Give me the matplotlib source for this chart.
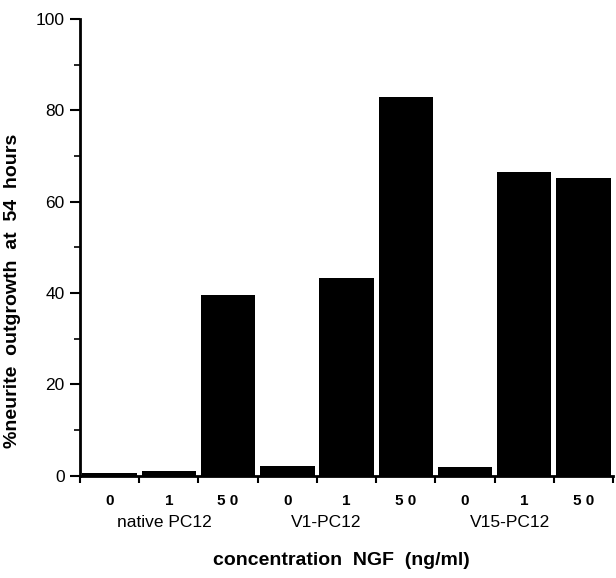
import matplotlib
matplotlib.use('Agg')
import matplotlib.pyplot as plt
import matplotlib.transforms as mtransforms
import numpy as np

plt.rcParams['font.family'] = ['Liberation Sans', 'DejaVu Sans']

# данные: % отростков через 54 часа
conc_labels = ['0', '1', '5 0', '0', '1', '5 0', '0', '1', '5 0']
outgrowth = [0.5, 1.1, 39.5, 2.1, 43.2, 83.0, 1.8, 66.6, 65.3]
groups = ['native PC12', 'V1-PC12', 'V15-PC12']
group_pos = [1.42, 4.16, 7.26]  # где стоят подписи групп (по оси x)
yticks = [0, 20, 40, 60, 80, 100]

fig = plt.figure(figsize=(6.16, 5.78), dpi=100)
ax = fig.add_axes([0.1299, 0.177, 0.8653, 0.79])

x = np.arange(len(outgrowth)) + 0.5
ax.bar(x, outgrowth, width=0.92, color='black', edgecolor='black', linewidth=0)

ax.set_xlim(0, 9)
ax.set_ylim(0, 100)

for s in ['top', 'right']:
    ax.spines[s].set_visible(False)
ax.spines['left'].set_linewidth(2)
ax.spines['bottom'].set_linewidth(2)

# y оси
ax.set_yticks(yticks)
ax.set_yticklabels([str(v) for v in yticks], fontsize=12.5)
ax.set_yticks(np.arange(10, 100, 20), minor=True)
ax.tick_params(axis='y', which='major', length=7, width=1.5, direction='out', pad=4)
ax.tick_params(axis='y', which='minor', length=4, width=1.2, direction='out')

# x: засечки на границах, подписи по центрам
ax.set_xticks(np.arange(0, 10))
ax.set_xticklabels([''] * 10)
ax.tick_params(axis='x', which='major', length=5, width=1.5, direction='out')
ax.set_xticks(x, minor=True)
ax.set_xticklabels(conc_labels, minor=True, fontsize=11, fontweight='bold')
ax.tick_params(axis='x', which='minor', length=0, pad=13)

trans = mtransforms.blended_transform_factory(ax.transData, ax.transAxes)
for name, p in zip(groups, group_pos):
    ax.text(p, -0.103, name, transform=trans, ha='center', va='center', fontsize=12.5)

ax.text(0.49, -0.185, 'concentration  NGF  (ng/ml)', transform=ax.transAxes,
        ha='center', va='center', fontsize=14, fontweight='bold')

ax.set_ylabel('%neurite  outgrowth  at  54  hours', fontsize=14, fontweight='bold')
ax.yaxis.set_label_coords(-0.111, 0.404)

fig.savefig('out.png', dpi=100)
